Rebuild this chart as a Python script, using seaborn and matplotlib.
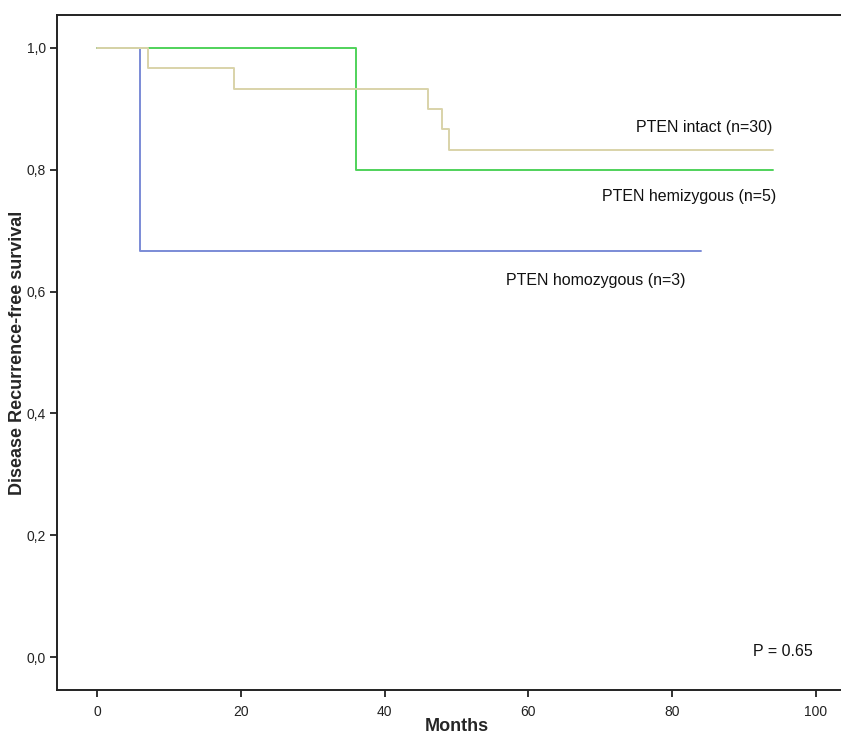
import matplotlib
matplotlib.use("Agg")
import matplotlib.pyplot as plt
import seaborn as sns
import pandas as pd

# Data (Kaplan-Meier step points)
intact_time = [0, 7, 19, 46, 48, 49, 94]
intact_surv = [1.0, 0.967, 0.933, 0.900, 0.867, 0.833, 0.833]
hemi_time = [0, 36, 94]
hemi_surv = [1.0, 0.8, 0.8]
homo_time = [0, 6, 84]
homo_surv = [1.0, 0.667, 0.667]
groups = ["PTEN homozygous (n=3)", "PTEN hemizygous (n=5)", "PTEN intact (n=30)"]
x_ticks = [0, 20, 40, 60, 80, 100]
y_ticks = [0.0, 0.2, 0.4, 0.6, 0.8, 1.0]
y_tick_labels = ["0,0", "0,2", "0,4", "0,6", "0,8", "1,0"]

df = pd.concat([
    pd.DataFrame({"Months": homo_time, "Survival": homo_surv, "group": groups[0]}),
    pd.DataFrame({"Months": hemi_time, "Survival": hemi_surv, "group": groups[1]}),
    pd.DataFrame({"Months": intact_time, "Survival": intact_surv, "group": groups[2]}),
])

sns.set_style("white")
plt.rcParams["font.family"] = ["Liberation Sans", "DejaVu Sans"]

fig = plt.figure(figsize=(8.41, 7.36), dpi=100)
ax = fig.add_axes([57 / 841, 1 - 690 / 736, 1 - 57 / 841, (690 - 15) / 736])

palette = {groups[0]: "#7b8bd6", groups[1]: "#4fd25a", groups[2]: "#d9d3a9"}
sns.lineplot(data=df, x="Months", y="Survival", hue="group", palette=palette,
             drawstyle="steps-post", estimator=None, linewidth=1.4,
             legend=False, ax=ax)

ax.set_xlim(-5.6, 103.5)
ax.set_ylim(-0.054, 1.054)
ax.set_xticks(x_ticks)
ax.set_xticklabels([str(t) for t in x_ticks], fontsize=10)
ax.set_yticks(y_ticks)
ax.set_yticklabels(y_tick_labels, fontsize=10)
ax.tick_params(axis="both", direction="out", length=5, width=1.3, color="#222222",
               left=True, bottom=True, pad=3, labelcolor="#222222")
ax.tick_params(axis="x", pad=6)

for s in ["left", "bottom", "top"]:
    ax.spines[s].set_linewidth(1.4)
    ax.spines[s].set_color("#222222")
ax.spines["right"].set_visible(False)

ax.set_xlabel("Months", fontsize=13, fontweight="bold")
ax.xaxis.set_label_coords((457 - 57) / 784, (690 - 718) / 675)
ax.set_ylabel("Disease Recurrence-free survival", fontsize=13, fontweight="bold")
ax.yaxis.set_label_coords((26 - 57) / 784, 0.5)

ax.text(94, 0.870, "PTEN intact (n=30)", ha="right", va="center", fontsize=11.5, color="#111111")
ax.text(94.5, 0.756, "PTEN hemizygous (n=5)", ha="right", va="center", fontsize=11.5, color="#111111")
ax.text(81.8, 0.619, "PTEN homozygous (n=3)", ha="right", va="center", fontsize=11.5, color="#111111")
ax.text(99.5, 0.009, "P = 0.65", ha="right", va="center", fontsize=11.5, color="#111111")

fig.savefig("out.png", dpi=100)
